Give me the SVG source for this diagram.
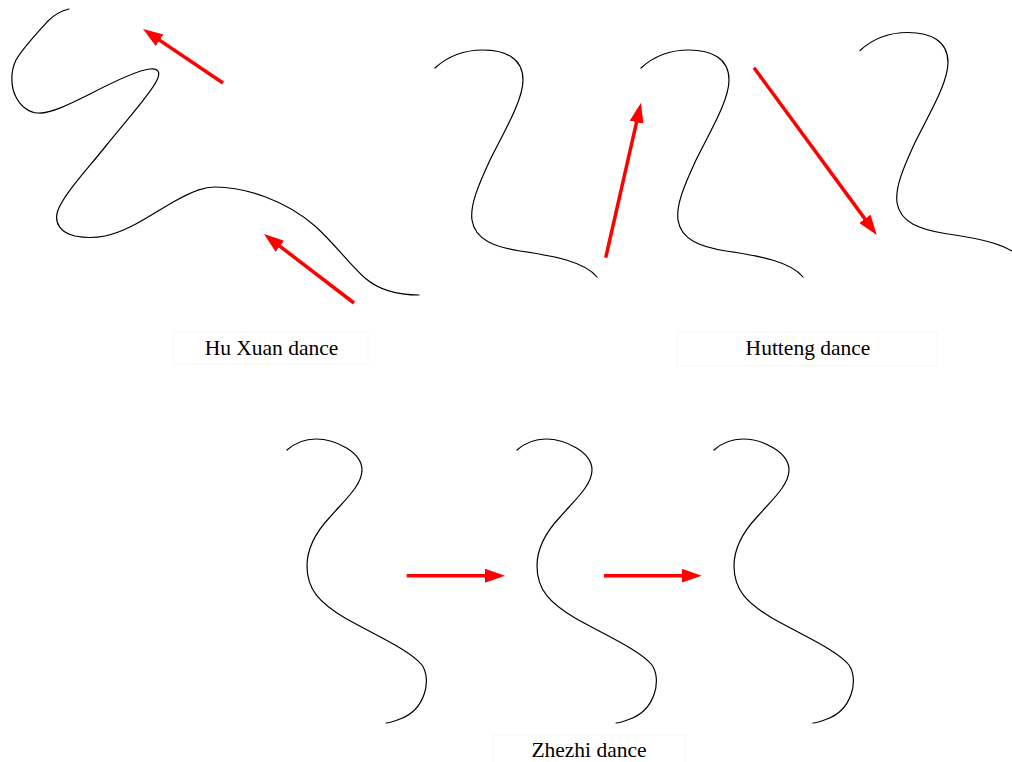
<svg xmlns="http://www.w3.org/2000/svg" width="1012" height="762" viewBox="0 0 1012 762">
  <style>
    .trace { fill: none; stroke: #000; stroke-width: 1.2; stroke-linecap: round; }
    .move { fill: none; stroke: #f00; stroke-width: 3.5; marker-end: url(#head); }
    .frame { fill: none; stroke: #f7f7f7; stroke-width: 1; }
    .label { font-family: "Liberation Serif", "Times New Roman", serif; font-size: 21.5px; fill: #000; text-anchor: middle; }
  </style>
  <defs>
    <marker id="head" markerUnits="userSpaceOnUse" markerWidth="22" markerHeight="16" refX="10" refY="7" orient="auto">
      <path d="M0,0 L20,7 L0,14 z" fill="#f00"/>
    </marker>
    <!-- vertical S-shaped stroke of the Hutteng panel -->
    <path id="hutteng-stroke" d="M435,68 C448,56 465,50 483,50 C505,50 523,58 523,80 C523,100 505,130 490,160 C478,186 470,205 472,220 C475,240 495,247 520,251 C555,256 585,262 597,277"/>
    <!-- wavy vertical stroke of the Zhezhi panel -->
    <path id="zhezhi-stroke" d="M287,450 C296,442 306,439 316,439 C335,439 362,452 362,470 C362,485 345,500 330,517 C315,533 307,548 307,566 C307,590 320,603 345,618 C375,635 410,650 422,665 C432,680 425,710 400,719 C395,721 390,723 386,723"/>
  </defs>

  <rect width="1012" height="762" fill="#fff"/>

  <!-- Hu Xuan dance -->
  <g id="hu-xuan">
    <path class="trace" d="M69,9 C60,11 54,15 48,21 C36,34 22,49 16,60 C10,72 11,88 16,97 C21,107 30,113 38,113 C50,114 70,104 90,94 C115,81 140,70 150,69 C160,68 160,74 157,80 C152,92 130,116 105,147 C85,172 65,193 58,210 C53,224 62,233 75,236 C85,238 95,238 105,236 C130,231 155,212 175,201 C195,190 205,187 215,187 C245,187 285,200 315,226 C335,244 350,265 365,278 C380,291 400,295 419,295"/>
    <rect class="frame" x="173" y="332" width="195" height="32"/>
    <text class="label" x="271.5" y="355">Hu Xuan dance</text>
  </g>

  <!-- Hutteng dance -->
  <g id="hutteng">
    <use href="#hutteng-stroke" class="trace"/>
    <use href="#hutteng-stroke" class="trace" transform="translate(206,0)"/>
    <use href="#hutteng-stroke" class="trace" transform="translate(425,-17.5)"/>
    <rect class="frame" x="677" y="332" width="260" height="34"/>
    <text class="label" x="808" y="355">Hutteng dance</text>
  </g>

  <!-- Zhezhi dance -->
  <g id="zhezhi">
    <use href="#zhezhi-stroke" class="trace"/>
    <use href="#zhezhi-stroke" class="trace" transform="translate(230,0)"/>
    <use href="#zhezhi-stroke" class="trace" transform="translate(427,0)"/>
    <rect class="frame" x="493" y="735" width="192" height="34"/>
    <text class="label" x="589" y="757">Zhezhi dance</text>
  </g>

  <!-- movement arrows -->
  <g id="connectors">
    <line class="move" x1="223" y1="83" x2="151.3" y2="34.6"/>
    <line class="move" x1="354" y1="303" x2="271.9" y2="240.1"/>
    <line class="move" x1="605.7" y1="257.7" x2="638.8" y2="112.4"/>
    <line class="move" x1="754" y1="67.7" x2="870.8" y2="226.9"/>
    <line class="move" x1="406.7" y1="575.7" x2="495" y2="575.7"/>
    <line class="move" x1="604" y1="575.7" x2="691.7" y2="575.7"/>
  </g>
</svg>
